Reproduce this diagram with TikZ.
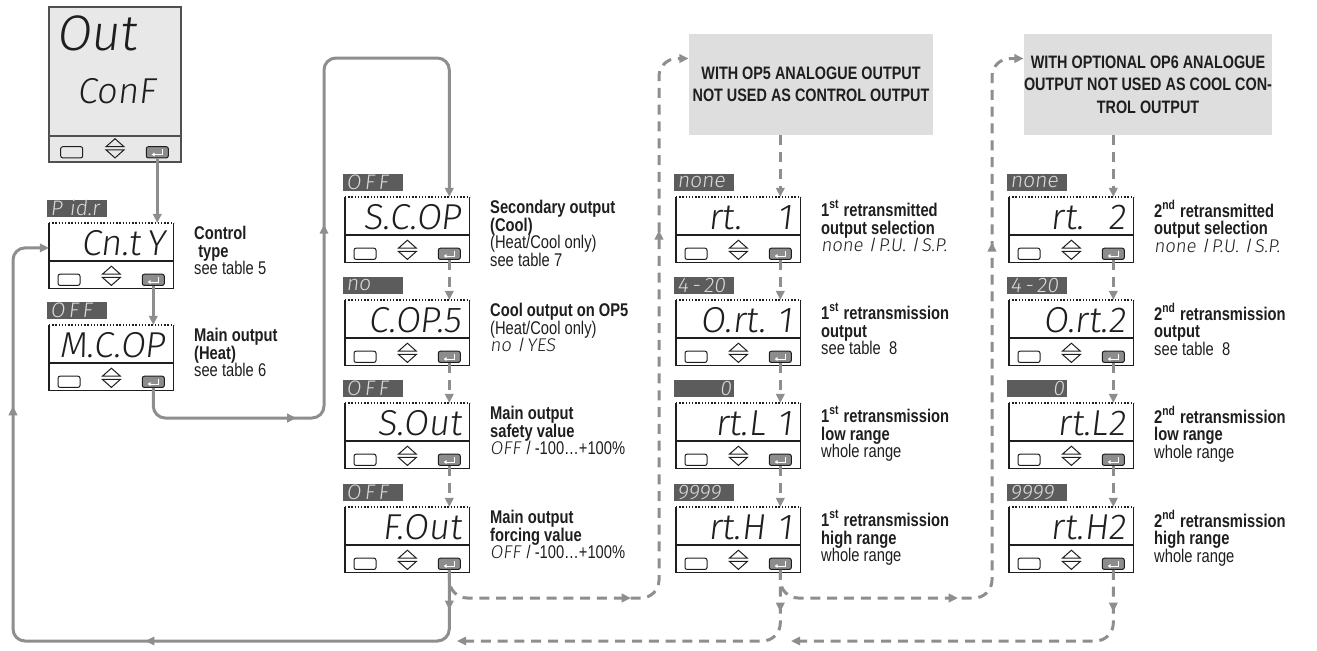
\documentclass[tikz,border=0pt]{standalone}
\usepackage{fontspec}
\setmainfont{Liberation Sans}[FakeStretch=0.8]
\newfontfamily\segfont{Fira Sans Light}[FakeSlant=0.12]
\usetikzlibrary{arrows.meta,positioning,calc,decorations.markings}
\definecolor{wire}{RGB}{142,142,142}
\definecolor{tagbg}{RGB}{92,92,92}
\definecolor{tagink}{RGB}{218,218,218}
\definecolor{keygray}{RGB}{140,140,140}
\definecolor{notegray}{RGB}{221,222,221}
\definecolor{lcd}{RGB}{232,232,232}
\definecolor{rimgray}{RGB}{80,80,80}
\definecolor{ink}{RGB}{30,30,30}
\tikzset{
  >={Triangle[length=4.6pt,width=4.2pt]},
  wire/.style={line width=1.5pt,draw=wire,rounded corners=6pt},
  dwire/.style={wire,dash pattern=on 5pt off 3.4pt},
  tipat/.style={postaction={decorate,decoration={markings,
    mark=at position #1 with {\arrow{>}}}}},
  screen/.style={anchor=north west,inner sep=0,minimum width=62pt,minimum height=32.5pt},
  rim/.style={line width=0.6pt,draw=ink},
  readout/.style={anchor=base east,inner sep=0,text=ink,font=\segfont\fontsize{18}{18}\selectfont},
  tagbox/.style={anchor=south west,fill=tagbg,text=tagink,inner xsep=1.5pt,inner ysep=0pt,
    text width=27pt,minimum height=8.5pt,align=left,font=\segfont\fontsize{10.5}{9}\selectfont},
  keyblank/.style={draw=ink,line width=0.5pt,rounded corners=1pt,fill=white,
    minimum width=11pt,minimum height=5.6pt,inner sep=0},
  keyenter/.style={keyblank,fill=keygray},
  notes/.style={anchor=north west,inner sep=0,align=left,text=ink,font=\fontsize{9.2}{8.8}\selectfont},
  notebox/.style={fill=notegray,inner sep=0,minimum width=122pt,minimum height=50.5pt,align=center,
    text=ink,font=\bfseries\fontsize{9}{11.2}\selectfont},
  % key pictograms
  pics/updown/.style={code={
    \draw[line width=0.5pt,draw=ink] (-4.5pt,0.8pt) -- (0pt,4.8pt) -- (4.5pt,0.8pt) -- cycle;
    \draw[line width=0.5pt,draw=ink] (-4.5pt,-0.8pt) -- (0pt,-4.8pt) -- (4.5pt,-0.8pt) -- cycle;
  }},
}
\newcommand{\entglyph}[1]{%
  \draw[white,line width=0.45pt,-{Triangle[length=1.4pt,width=1.8pt]}]
    ([shift={(2.6pt,1.5pt)}]#1.center) |- ([shift={(-2.8pt,-1.1pt)}]#1.center);}
\newcommand{\lcdpanel}[6]{%
  \node[screen] (#1) at (#2,#3) {};
  \draw[rim] (#1.north west) -- (#1.south west) -- (#1.south east) -- (#1.north east);
  \draw[rim,dash pattern=on 0.7pt off 0.9pt] (#1.north west) -- (#1.north east);
  \draw[rim] ([yshift=-19pt]#1.north west) -- ([yshift=-19pt]#1.north east);
  \node[tagbox] (#1-tag) at ([xshift=-1pt,yshift=3pt]#1.north west) {#4};
  \node[readout] (#1-seg) at ([xshift=-4pt,yshift=-16pt]#1.north east) {#5};
  \node[keyblank] (#1-esc) at ([xshift=10pt,yshift=4.5pt]#1.south west) {};
  \node[keyenter] (#1-ent) at ([xshift=-10.25pt,yshift=4.5pt]#1.south east) {};
  \entglyph{#1-ent}
  \pic at ([yshift=6.5pt]#1.south) {updown};
  \node[notes] (#1-txt) at ([xshift=10pt,yshift=-1.5pt]#1.north east) {#6};
}

\begin{document}
\begin{tikzpicture}[x=0.5pt,y=-0.5pt]
  \useasboundingbox (0,0) rectangle (1317,650);
  % entry screen
  \node[draw=rimgray,line width=0.8pt,fill=lcd,inner sep=0,minimum width=66pt,minimum height=77.5pt] (outconf) at (115,84.5) {};
  \draw[draw=rimgray,line width=0.8pt] ([yshift=13.5pt]outconf.south west) -- ([yshift=13.5pt]outconf.south east);
  \node[anchor=base west,inner sep=0,text=ink,font=\segfont\fontsize{25}{25}\selectfont] (outconf-l1) at (56,50) {Out};
  \node[anchor=base west,inner sep=0,text=ink,font=\segfont\fontsize{18}{18}\selectfont] (outconf-l2) at (77,103) {ConF};
  \node[keyblank,fill=lcd] (outconf-esc) at ([xshift=11.75pt,yshift=5.25pt]outconf.south west) {};
  \node[keyenter] (outconf-ent) at ([xshift=-12.25pt,yshift=5.25pt]outconf.south east) {};
  \entglyph{outconf-ent}
  \pic at ([yshift=7.25pt]outconf.south) {updown};

  \lcdpanel{cnty}{49}{223}{P\ id.r}{Cn.t\,Y}{\textbf{Control}\\\textbf{\ type}\\see table 5}
  \lcdpanel{mcop}{49}{325}{O\,F\,F}{M.C.OP}{\textbf{Main output}\\\textbf{(Heat)}\\see table 6}
  \lcdpanel{scop}{345}{197}{O\,F\,F}{S.C.OP}{\textbf{Secondary output}\\\textbf{(Cool)}\\(Heat/Cool only)\\see table 7}
  \lcdpanel{cop5}{345}{300}{no}{C.OP.5}{\textbf{Cool output on OP5}\\(Heat/Cool only)\\{\segfont no}\ \ /\,{\segfont YES}}
  \lcdpanel{sout}{345}{403}{O\,F\,F}{S.Out}{\textbf{Main output}\\\textbf{safety value}\\{\segfont OFF}\hspace{3pt}/ -100…+100\%}
  \lcdpanel{fout}{345}{507}{O\,F\,F}{F.Out}{\textbf{Main output}\\\textbf{forcing value}\\{\segfont OFF}\hspace{3pt}/ -100…+100\%}
  \foreach \a/\b in {scop/cop5,cop5/sout,sout/fout}
    \draw[dwire,->] (\a-ent.south) -- (\a-ent.south |- \b.north);

  \node[notebox] (op5) at (811,84.5) {WITH OP5 ANALOGUE OUTPUT\\NOT USED AS CONTROL OUTPUT};
  \node[notebox] (op6) at (1148,84.5) {WITH OPTIONAL OP6 ANALOGUE\\OUTPUT NOT USED AS COOL CON-\\TROL OUTPUT};

  \foreach \idx/\x/\sfx/\pad/\note in {1/676/st/6pt/op5,2/1009/nd/0pt/op6}{
    \lcdpanel{rt\idx}{\x}{197}{none}{rt.\hspace{12pt}\hspace{\pad}\idx}
      {\textbf{\idx\textsuperscript{\sfx} retransmitted}\\\textbf{output selection}\\{\segfont none}\ \ /\,{\segfont P.U.}\ \ /\,{\segfont S.P.}}
    \lcdpanel{ort\idx}{\x}{300}{4\,-\,20}{O.rt.\hspace{\pad}\idx}
      {\textbf{\idx\textsuperscript{\sfx} retransmission}\\\textbf{output}\\see table~ 8}
    \lcdpanel{rtl\idx}{\x}{403}{\hfill 0}{rt.L\hspace{\pad}\idx}
      {\textbf{\idx\textsuperscript{\sfx} retransmission}\\\textbf{low range}\\whole range}
    \lcdpanel{rth\idx}{\x}{507}{9999}{rt.H\hspace{\pad}\idx}
      {\textbf{\idx\textsuperscript{\sfx} retransmission}\\\textbf{high range}\\whole range}
    \draw[dwire,->] (\note.south -| rt\idx-ent) -- (rt\idx-ent |- rt\idx.north);
    \draw[dwire,->] (rt\idx-ent.south) -- (rt\idx-ent.south |- ort\idx.north);
    \draw[dwire,->] (ort\idx-ent.south) -- (ort\idx-ent.south |- rtl\idx.north);
    \draw[dwire,->] (rtl\idx-ent.south) -- (rtl\idx-ent.south |- rth\idx.north);
  }

  % solid links
  \draw[wire,->] (outconf-ent.south) -- (outconf-ent.south |- cnty.north);
  \draw[wire,->] (cnty-ent.south) -- (cnty-ent.south |- mcop.north);
  \coordinate (liftA) at (324,418);
  \coordinate (liftB) at (324,58);
  \draw[wire,->,tipat=84pt,tipat=192pt] (mcop-ent.south) |- (liftA) -- (liftB) -| (scop-ent.south |- scop.north);
  \coordinate (loopSW) at (13,641);
  \draw[wire,->,tipat=20pt,tipat=185pt,tipat=366pt] (fout-ent.south) |- (loopSW) |- ([yshift=4pt]cnty.west);

  % optional branches
  \coordinate (dipA) at (659,598);
  \coordinate (dipB) at (992,598);
  \draw[dwire,rounded corners=9pt,->,tipat=101pt,tipat=295pt] (fout-ent.south) |- (dipA) |- ([yshift=13pt]op5.west);
  \draw[dwire,rounded corners=9pt,->,tipat=99pt,tipat=290pt] (rth1-ent.south) |- (dipB) |- ([yshift=13pt]op6.west);
  \coordinate (mergeA) at (457,641);
  \coordinate (mergeB) at (791,641);
  \draw[dwire,rounded corners=9pt,->,tipat=21pt] (rth1-ent.south) |- (mergeA);
  \draw[dwire,rounded corners=9pt,->,tipat=21pt] (rth2-ent.south) |- (mergeB);
\end{tikzpicture}
\end{document}
